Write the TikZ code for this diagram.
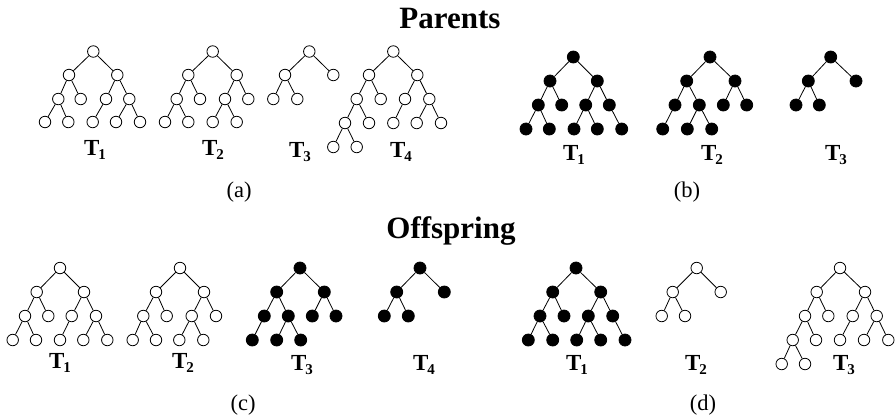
\documentclass[tikz,border=0pt]{standalone}
\usepackage{fontspec}
\setmainfont{Liberation Serif}
\newcommand{\Tlab}[1]{\textbf{T\kern-1pt\raisebox{-4.5pt}{\fontsize{15}{15}\selectfont\bfseries #1}}}
\tikzset{
  onode/.style={circle,draw=black,fill=white,line width=0.8pt,minimum size=11.5pt,inner sep=0pt},
  fnode/.style={circle,draw=black,fill=black,line width=0.8pt,minimum size=12pt,inner sep=0pt},
  edge/.style={draw=black,line width=0.8pt},
  tlab/.style={font=\fontsize{23}{23}\selectfont,inner sep=0pt},
  sublab/.style={font=\fontsize{22.5}{22.5}\selectfont,inner sep=0pt},
  title/.style={font=\fontsize{31}{31}\selectfont\bfseries,inner sep=0pt,anchor=base}
}
\begin{document}
\begin{tikzpicture}[x=1pt,y=-1pt]
\useasboundingbox (0,0) rectangle (896,416);
\fill[white] (0,0) rectangle (896,416);

\node[title] (tpar) at (450,28.3) {Parents};
\node[title] (toff) at (451,238.5) {Offspring};

% ---------- (a) T1
\begin{scope}[every node/.style={onode}]
\node (a1r) at (93.3,51.5) {};
\node (a1l) at (69,75) {}; \node (a1R) at (117.3,75) {};
\node (a1ll) at (58.3,99) {}; \node (a1lr) at (80.7,99) {}; \node (a1rl) at (106,99) {}; \node (a1rr) at (129.3,99) {};
\node (a1lll) at (45,122) {}; \node (a1llr) at (68.3,122) {}; \node (a1rll) at (92.7,122) {}; \node (a1rrl) at (116,122) {}; \node (a1rrr) at (140,122) {};
\end{scope}
\foreach \u/\v in {r/l,r/R,l/ll,l/lr,ll/lll,ll/llr,R/rl,R/rr,rl/rll,rr/rrl,rr/rrr} \draw[edge] (a1\u) -- (a1\v);

% ---------- (a) T2
\begin{scope}[every node/.style={onode}]
\node (a2r) at (212.7,51.5) {};
\node (a2l) at (188.3,75) {}; \node (a2R) at (236.7,75) {};
\node (a2ll) at (176.7,99) {}; \node (a2lr) at (200,99) {}; \node (a2rl) at (225,99) {}; \node (a2rr) at (248.3,99) {};
\node (a2lll) at (165,122) {}; \node (a2llr) at (188.3,122) {}; \node (a2rll) at (212.7,122) {}; \node (a2rlr) at (236.7,122) {};
\end{scope}
\foreach \u/\v in {r/l,r/R,l/ll,l/lr,ll/lll,ll/llr,R/rl,R/rr,rl/rll,rl/rlr} \draw[edge] (a2\u) -- (a2\v);

% ---------- (a) T3
\begin{scope}[every node/.style={onode}]
\node (a3r) at (309.3,51.5) {};
\node (a3l) at (285,75) {}; \node (a3R) at (333.3,75) {};
\node (a3ll) at (273.3,99) {}; \node (a3lr) at (297.3,99) {};
\end{scope}
\foreach \u/\v in {r/l,r/R,l/ll,l/lr} \draw[edge] (a3\u) -- (a3\v);

% ---------- (a) T4
\begin{scope}[every node/.style={onode}]
\node (a4r) at (393.3,51.5) {};
\node (a4l) at (369,75) {}; \node (a4R) at (417.3,75) {};
\node (a4ll) at (356.7,99) {}; \node (a4lr) at (380.7,99) {}; \node (a4rl) at (405,99) {}; \node (a4rr) at (429.3,99) {};
\node (a4lll) at (345,123) {}; \node (a4llr) at (369,123) {}; \node (a4rll) at (393.3,123) {}; \node (a4rrl) at (416.7,123) {}; \node (a4rrr) at (441,123) {};
\node (a4llll) at (333.3,147) {}; \node (a4lllr) at (356.7,147) {};
\end{scope}
\foreach \u/\v in {r/l,r/R,l/ll,l/lr,ll/lll,ll/llr,lll/llll,lll/lllr,R/rl,R/rr,rl/rll,rr/rrl,rr/rrr} \draw[edge] (a4\u) -- (a4\v);

% ---------- (b) T1
\begin{scope}[every node/.style={fnode}]
\node (b1r) at (573.3,57) {};
\node (b1l) at (550,81) {}; \node (b1R) at (597.3,81) {};
\node (b1ll) at (538.3,105) {}; \node (b1lr) at (561.7,105) {}; \node (b1rl) at (585.7,105) {}; \node (b1rr) at (609.3,105) {};
\node (b1lll) at (526,129) {}; \node (b1llr) at (549.3,129) {}; \node (b1rll) at (574,129) {}; \node (b1rlr) at (597.3,129) {}; \node (b1rrr) at (621.7,129) {};
\end{scope}
\foreach \u/\v in {r/l,r/R,l/ll,l/lr,ll/lll,ll/llr,R/rl,R/rr,rl/rll,rl/rlr,rr/rrr} \draw[edge] (b1\u) -- (b1\v);

% ---------- (b) T2
\begin{scope}[every node/.style={fnode}]
\node (b2r) at (710,57) {};
\node (b2l) at (686.7,81) {}; \node (b2R) at (735,81) {};
\node (b2ll) at (675,105) {}; \node (b2lr) at (699.3,105) {}; \node (b2rl) at (723.3,105) {}; \node (b2rr) at (746.7,105) {};
\node (b2lll) at (662.7,129) {}; \node (b2lrl) at (687.3,129) {}; \node (b2lrr) at (711.7,129) {};
\end{scope}
\foreach \u/\v in {r/l,r/R,l/ll,l/lr,ll/lll,lr/lrl,lr/lrr,R/rl,R/rr} \draw[edge] (b2\u) -- (b2\v);

% ---------- (b) T3
\begin{scope}[every node/.style={fnode}]
\node (b3r) at (830.7,57) {};
\node (b3l) at (808.3,81) {}; \node (b3R) at (856,81) {};
\node (b3ll) at (796,105) {}; \node (b3lr) at (819.3,105) {};
\end{scope}
\foreach \u/\v in {r/l,r/R,l/ll,l/lr} \draw[edge] (b3\u) -- (b3\v);

% ---------- (c) T1
\begin{scope}[every node/.style={onode}]
\node (c1r) at (60,268) {};
\node (c1l) at (36.7,292) {}; \node (c1R) at (84,292) {};
\node (c1ll) at (25,316) {}; \node (c1lr) at (48.3,316) {}; \node (c1rl) at (71.7,316) {}; \node (c1rr) at (96,316) {};
\node (c1lll) at (12.7,340) {}; \node (c1llr) at (36,340) {}; \node (c1rll) at (60,340) {}; \node (c1rrl) at (83.3,340) {}; \node (c1rrr) at (107.3,340) {};
\end{scope}
\foreach \u/\v in {r/l,r/R,l/ll,l/lr,ll/lll,ll/llr,R/rl,R/rr,rl/rll,rr/rrl,rr/rrr} \draw[edge] (c1\u) -- (c1\v);

% ---------- (c) T2
\begin{scope}[every node/.style={onode}]
\node (c2r) at (180,268) {};
\node (c2l) at (156,292) {}; \node (c2R) at (204,292) {};
\node (c2ll) at (143.3,316) {}; \node (c2lr) at (166.7,316) {}; \node (c2rl) at (191.7,316) {}; \node (c2rr) at (216,316) {};
\node (c2lll) at (132.7,340) {}; \node (c2llr) at (156,340) {}; \node (c2rll) at (179.3,340) {}; \node (c2rlr) at (203.3,340) {};
\end{scope}
\foreach \u/\v in {r/l,r/R,l/ll,l/lr,ll/lll,ll/llr,R/rl,R/rr,rl/rll,rl/rlr} \draw[edge] (c2\u) -- (c2\v);

% ---------- (c) T3
\begin{scope}[every node/.style={fnode}]
\node (c3r) at (300,268) {};
\node (c3l) at (276.7,292) {}; \node (c3R) at (324.3,292) {};
\node (c3ll) at (264.3,316) {}; \node (c3lr) at (288.3,316) {}; \node (c3rl) at (312.3,316) {}; \node (c3rr) at (336,316) {};
\node (c3lll) at (252.3,340) {}; \node (c3lrl) at (276.7,340) {}; \node (c3lrr) at (300.7,340) {};
\end{scope}
\foreach \u/\v in {r/l,r/R,l/ll,l/lr,ll/lll,lr/lrl,lr/lrr,R/rl,R/rr} \draw[edge] (c3\u) -- (c3\v);

% ---------- (c) T4
\begin{scope}[every node/.style={fnode}]
\node (c4r) at (420,268) {};
\node (c4l) at (396.7,292) {}; \node (c4R) at (444.3,292) {};
\node (c4ll) at (384.3,316) {}; \node (c4lr) at (408.3,316) {};
\end{scope}
\foreach \u/\v in {r/l,r/R,l/ll,l/lr} \draw[edge] (c4\u) -- (c4\v);

% ---------- (d) T1
\begin{scope}[every node/.style={fnode}]
\node (d1r) at (576,268) {};
\node (d1l) at (552.7,292) {}; \node (d1R) at (600.7,292) {};
\node (d1ll) at (540,316) {}; \node (d1lr) at (564,316) {}; \node (d1rl) at (588.3,316) {}; \node (d1rr) at (612.7,316) {};
\node (d1lll) at (528.3,340) {}; \node (d1llr) at (552.7,340) {}; \node (d1rll) at (576.7,340) {}; \node (d1rlr) at (600.7,340) {}; \node (d1rrr) at (625,340) {};
\end{scope}
\foreach \u/\v in {r/l,r/R,l/ll,l/lr,ll/lll,ll/llr,R/rl,R/rr,rl/rll,rl/rlr,rr/rrr} \draw[edge] (d1\u) -- (d1\v);

% ---------- (d) T2
\begin{scope}[every node/.style={onode}]
\node (d2r) at (696.7,268) {};
\node (d2l) at (672.7,292) {}; \node (d2R) at (720.7,292) {};
\node (d2ll) at (661.7,316) {}; \node (d2lr) at (685,316) {};
\end{scope}
\foreach \u/\v in {r/l,r/R,l/ll,l/lr} \draw[edge] (d2\u) -- (d2\v);

% ---------- (d) T3
\begin{scope}[every node/.style={onode}]
\node (d3r) at (840,268) {};
\node (d3l) at (816.7,292) {}; \node (d3R) at (865,292) {};
\node (d3ll) at (805,316) {}; \node (d3lr) at (828.3,316) {}; \node (d3rl) at (852.7,316) {}; \node (d3rr) at (876.7,316) {};
\node (d3lll) at (792.7,340) {}; \node (d3llr) at (816,340) {}; \node (d3rll) at (840,340) {}; \node (d3rrl) at (864,340) {}; \node (d3rrr) at (888.3,340) {};
\node (d3llll) at (781.7,364) {}; \node (d3lllr) at (805,364) {};
\end{scope}
\foreach \u/\v in {r/l,r/R,l/ll,l/lr,ll/lll,ll/llr,lll/llll,lll/lllr,R/rl,R/rr,rl/rll,rr/rrl,rr/rrr} \draw[edge] (d3\u) -- (d3\v);

% ---------- tree labels
\node[tlab] (la1) at (95,150) {\Tlab{1}};
\node[tlab] (la2) at (213,150) {\Tlab{2}};
\node[tlab] (la3) at (300,152) {\Tlab{3}};
\node[tlab] (la4) at (401,152) {\Tlab{4}};
\node[tlab] (lb1) at (574,155) {\Tlab{1}};
\node[tlab] (lb2) at (712,155) {\Tlab{2}};
\node[tlab] (lb3) at (836,155) {\Tlab{3}};
\node[tlab] (lc1) at (60,363) {\Tlab{1}};
\node[tlab] (lc2) at (183,363) {\Tlab{2}};
\node[tlab] (lc3) at (302,365) {\Tlab{3}};
\node[tlab] (lc4) at (424,365) {\Tlab{4}};
\node[tlab] (ld1) at (577,365) {\Tlab{1}};
\node[tlab] (ld2) at (696,365) {\Tlab{2}};
\node[tlab] (ld3) at (844,365) {\Tlab{3}};

% ---------- sub-figure labels
\node[sublab] (sa) at (239,192) {(a)};
\node[sublab] (sb) at (687,192) {(b)};
\node[sublab] (sc) at (243,405) {(c)};
\node[sublab] (sd) at (703,405) {(d)};
\end{tikzpicture}
\end{document}
